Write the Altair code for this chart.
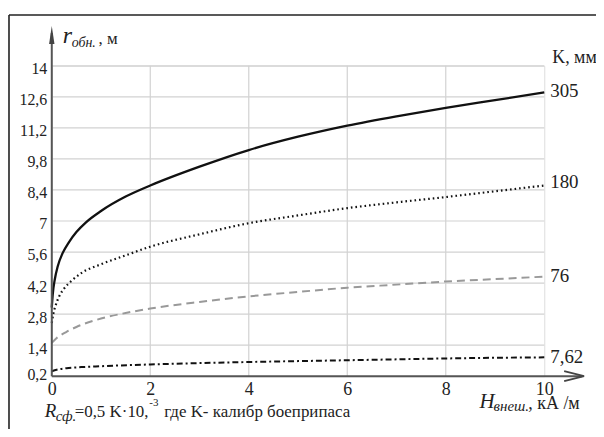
import altair as alt
import pandas as pd

# ---- data ----
x_305 = [0, 0.02, 0.06, 0.12, 0.22, 0.35, 0.5, 0.7, 1, 1.5, 2, 3, 4, 5, 6, 7, 8, 9, 10]
y_305 = [3.1, 3.7, 4.35, 4.95, 5.55, 6.05, 6.5, 6.95, 7.45, 8.1, 8.6, 9.45, 10.2, 10.8, 11.3, 11.72, 12.1, 12.45, 12.8]

x_180 = [0, 0.03, 0.08, 0.15, 0.25, 0.4, 0.6, 1, 1.5, 2, 3, 4, 5, 6, 7, 8, 9, 10]
y_180 = [2.4, 2.8, 3.2, 3.6, 3.95, 4.3, 4.65, 5.05, 5.45, 5.84, 6.4, 6.9, 7.25, 7.58, 7.84, 8.08, 8.34, 8.6]

x_76 = [0, 0.1, 0.3, 0.5, 1, 1.5, 2, 3, 4, 5, 6, 7, 8, 9, 10]
y_76 = [1.5, 1.72, 2.0, 2.22, 2.6, 2.85, 3.05, 3.35, 3.6, 3.8, 3.99, 4.13, 4.27, 4.38, 4.49]

x_762 = [0, 0.1, 0.3, 0.6, 1, 2, 3, 4, 5, 6, 7, 8, 9, 10]
y_762 = [0.22, 0.29, 0.36, 0.41, 0.45, 0.53, 0.59, 0.64, 0.68, 0.72, 0.76, 0.8, 0.83, 0.85]

calibers = ["305", "180", "76", "7,62"]
label_y = [12.85, 8.75, 4.5, 0.85]

y_ticks = [0.2, 1.4, 2.8, 4.2, 5.6, 7, 8.4, 9.8, 11.2, 12.6, 14]
y_grid = [1.4, 2.8, 4.2, 5.6, 7, 8.4, 9.8, 11.2, 12.6, 14]
x_ticks = [0, 2, 4, 6, 8, 10]
x_grid = [2, 4, 6, 8]

FONT = "Liberation Serif, Times New Roman, serif"
W, H = 495, 312

xs = alt.Scale(domain=[0, 10], nice=False, zero=False)
ys = alt.Scale(domain=[0, 14], nice=False, zero=False)

one = pd.DataFrame({"a": [0]})

x_axis = alt.Axis(values=x_ticks, grid=False, domain=False, ticks=False, labelPadding=4,
                  labelFont=FONT, labelFontSize=18, labelColor="#222", title=None,
                  labelFlush=False, labelOverlap=False)
y_axis = alt.Axis(values=y_ticks, grid=False, domain=False, ticks=False, labelPadding=5,
                  labelFont=FONT, labelFontSize=16, labelColor="#222", title=None,
                  labelExpr="replace(format(datum.value, '.1~f'), '.', ',')",
                  labelOffset=3, labelFlush=False, labelOverlap=False)

X = lambda f: alt.X(f, scale=xs, axis=x_axis)
Y = lambda f: alt.Y(f, scale=ys, axis=y_axis)

# grid
vgrid = alt.Chart(pd.DataFrame({"x": x_grid})).mark_rule(color="#d2d2d2", strokeWidth=1.2).encode(
    x=X("x:Q")
)
hgrid = alt.Chart(pd.DataFrame({"y": y_grid})).mark_rule(color="#d2d2d2", strokeWidth=1.2).encode(
    y=Y("y:Q")
)

def line(xv, yv, **kw):
    df = pd.DataFrame({"x": xv, "y": yv})
    return alt.Chart(df).mark_line(interpolate="monotone", **kw).encode(x=X("x:Q"), y=Y("y:Q"))

l305 = line(x_305, y_305, color="#111", strokeWidth=2.3)
l180 = line(x_180, y_180, color="#111", strokeWidth=2.2, strokeDash=[1.6, 3])
l76 = line(x_76, y_76, color="#999", strokeWidth=2, strokeDash=[8, 5])
l762 = line(x_762, y_762, color="#111", strokeWidth=2, strokeDash=[6, 3, 2, 3])

labels = alt.Chart(pd.DataFrame({"x": [10] * 4, "y": label_y, "t": calibers})).mark_text(
    align="left", baseline="middle", dx=6, font=FONT, fontSize=19, color="#222"
).encode(x=X("x:Q"), y=Y("y:Q"), text="t:N")

# axes lines and arrows (decoration)
yaxis_line = alt.Chart(one).mark_rule(color="#555", strokeWidth=2).encode(
    x=alt.value(0), y=alt.value(-33), y2=alt.value(H))
xaxis_line = alt.Chart(one).mark_rule(color="#555", strokeWidth=2).encode(
    x=alt.value(0), x2=alt.value(533), y=alt.value(H))
yarrow = alt.Chart(one).mark_point(
    shape="M0,-1L0.3,1L-0.3,1Z", filled=True, color="#444", size=324, opacity=1
).encode(x=alt.value(0), y=alt.value(-31))
xarrow = alt.Chart(one).mark_point(
    shape="M-1,-0.5L1,0L-1,0.5", filled=False, color="#444", size=400, strokeWidth=1.8, opacity=1
).encode(x=alt.value(525), y=alt.value(H))

# outer frame (top and left edges)
frame_top = alt.Chart(one).mark_rule(color="#222", strokeWidth=1.6).encode(
    x=alt.value(-43), x2=alt.value(560), y=alt.value(-51))
frame_left = alt.Chart(one).mark_rule(color="#222", strokeWidth=1.6).encode(
    x=alt.value(-43), y=alt.value(-51), y2=alt.value(380))

def txt(s, x, y, size, style="normal", align="left"):
    return alt.Chart(one).mark_text(
        text=s, align=align, baseline="alphabetic", font=FONT, fontSize=size,
        fontStyle=style, color="#222"
    ).encode(x=alt.value(x), y=alt.value(y))

texts = [
    txt("r", 11, -23, 24, "italic"),
    txt("обн.", 20, -19, 14, "italic"),
    txt(", м", 47, -22, 17),
    txt("K, мм", 503, -3, 18),
    txt("H", 430, 344, 21, "italic"),
    txt("внеш.", 444, 347, 15, "italic"),
    txt(", кА /м", 479, 345, 18),
    txt("R", -7, 353, 19, "italic"),
    txt("сф.", 4, 357, 15, "italic"),
    txt("=0,5 K·10,", 23, 353, 17),
    txt("-3", 98, 342, 11),
    txt("где K- калибр боеприпаса", 113, 353, 17),
]

chart = alt.layer(
    vgrid, hgrid, l76, l762, l180, l305, labels,
    yaxis_line, xaxis_line, yarrow, xarrow, frame_top, frame_left, *texts
).properties(
    width=W, height=H,
    autosize=alt.AutoSizeParams(type="none"),
    padding={"left": 44, "top": 57, "right": 52, "bottom": 52},
).configure_view(stroke="#8a8a8a", strokeWidth=1.5).configure_axis(
    labelOverlap=False
).configure(background="white")

chart.save("out.html", embed_options={"renderer": "svg", "actions": False})
